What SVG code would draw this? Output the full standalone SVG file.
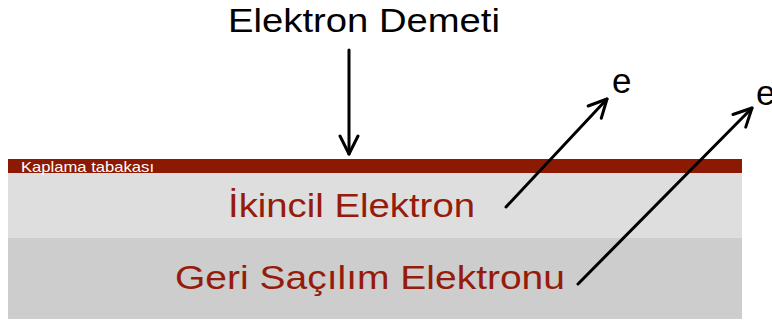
<svg xmlns="http://www.w3.org/2000/svg" width="772" height="324" viewBox="0 0 772 324">
  <style>
    .lbl { font-family: "Liberation Sans", Arial, sans-serif; }
    .layer-text { fill: #951b0b; font-size: 33px; }
    .arrow { stroke: #000; stroke-width: 3; fill: none; stroke-linecap: round; stroke-linejoin: round; }
  </style>
  <defs>
    <marker id="head" viewBox="0 0 22 22" refX="20" refY="11" markerWidth="22" markerHeight="22" markerUnits="userSpaceOnUse" orient="auto">
      <path d="M2,2 L20,11 L2,20" fill="none" stroke="#000" stroke-width="3" stroke-linecap="round" stroke-linejoin="round"/>
    </marker>
  </defs>
  <rect width="772" height="324" fill="#fff"/>

  <g id="bulk">
    <rect x="8" y="238" width="734" height="81" fill="#cdcdcd"/>
    <text class="lbl layer-text" x="175" y="289" textLength="390" lengthAdjust="spacingAndGlyphs">Geri Saçılım Elektronu</text>
  </g>
  <g id="secondary">
    <rect x="8" y="173" width="734" height="65" fill="#dedede"/>
    <text class="lbl layer-text" x="228" y="217" textLength="247" lengthAdjust="spacingAndGlyphs">İkincil Elektron</text>
  </g>
  <g id="coating">
    <rect x="8" y="159" width="734" height="14" fill="#8c1a02"/>
    <text class="lbl" x="21" y="172" font-size="15" fill="#fff" textLength="133" lengthAdjust="spacingAndGlyphs">Kaplama tabakası</text>
  </g>
  <g id="beam-label">
    <text class="lbl" x="228" y="32" font-size="33" fill="#000" textLength="272" lengthAdjust="spacingAndGlyphs">Elektron Demeti</text>
  </g>
  <g id="e1">
    <text class="lbl" x="612" y="93" font-size="35" fill="#000">e</text>
  </g>
  <g id="e2">
    <text class="lbl" x="756" y="105" font-size="35" fill="#000">e</text>
  </g>

  <g id="connectors">
    <line class="arrow" x1="349" y1="50" x2="349" y2="154" marker-end="url(#head)"/>
    <line class="arrow" x1="506" y1="207" x2="607" y2="99" marker-end="url(#head)"/>
    <line class="arrow" x1="578" y1="284" x2="752" y2="108" marker-end="url(#head)"/>
  </g>
</svg>
